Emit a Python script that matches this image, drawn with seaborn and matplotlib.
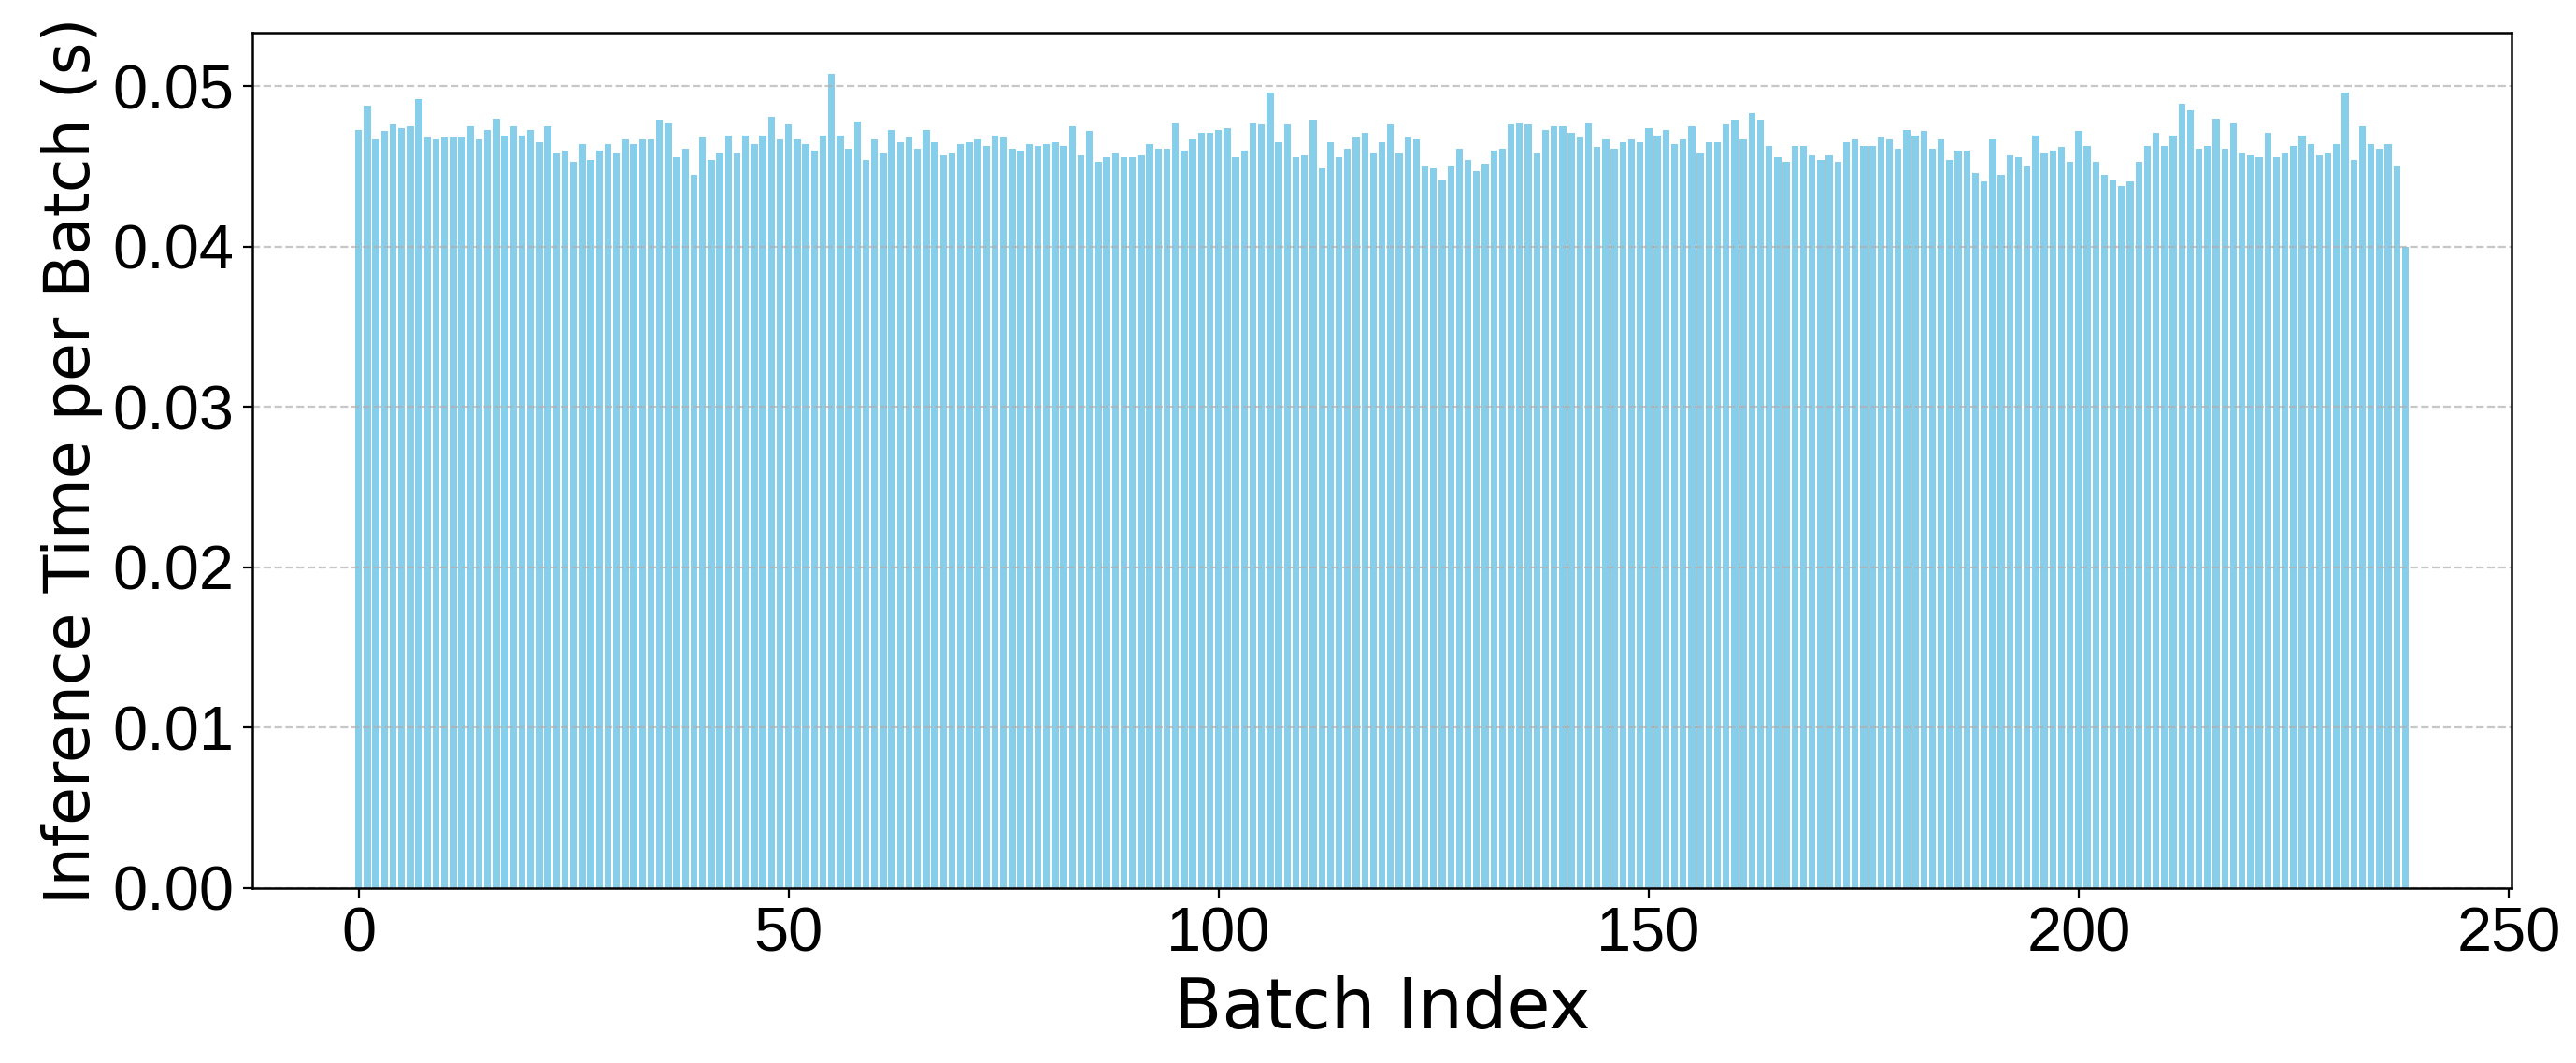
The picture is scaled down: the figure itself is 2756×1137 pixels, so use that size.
import matplotlib
matplotlib.use("Agg")
import matplotlib.pyplot as plt
import seaborn as sns
import pandas as pd
import numpy as np

# Inference time per batch (seconds), batches 0..238
times_0_39 = [0.0473, 0.0488, 0.0467, 0.0472, 0.0476, 0.0474, 0.0475, 0.0492, 0.0468, 0.0467,
              0.0468, 0.0468, 0.0468, 0.0475, 0.0467, 0.0473, 0.0480, 0.0469, 0.0475, 0.0469,
              0.0473, 0.0465, 0.0475, 0.0458, 0.0460, 0.0453, 0.0464, 0.0454, 0.0460, 0.0464,
              0.0458, 0.0467, 0.0464, 0.0467, 0.0467, 0.0479, 0.0477, 0.0456, 0.0461, 0.0445]
times_40_79 = [0.0468, 0.0454, 0.0458, 0.0469, 0.0458, 0.0469, 0.0464, 0.0469, 0.0481, 0.0467,
               0.0476, 0.0467, 0.0464, 0.0460, 0.0469, 0.0508, 0.0469, 0.0461, 0.0478, 0.0454,
               0.0467, 0.0458, 0.0473, 0.0465, 0.0468, 0.0461, 0.0473, 0.0465, 0.0457, 0.0458,
               0.0464, 0.0465, 0.0467, 0.0463, 0.0469, 0.0468, 0.0461, 0.0460, 0.0464, 0.0463]
times_80_119 = [0.0464, 0.0465, 0.0463, 0.0475, 0.0457, 0.0472, 0.0453, 0.0456, 0.0458, 0.0456,
                0.0456, 0.0457, 0.0464, 0.0461, 0.0461, 0.0477, 0.0460, 0.0467, 0.0471, 0.0471,
                0.0473, 0.0474, 0.0456, 0.0460, 0.0477, 0.0476, 0.0496, 0.0465, 0.0476, 0.0456,
                0.0457, 0.0479, 0.0449, 0.0465, 0.0456, 0.0461, 0.0468, 0.0471, 0.0458, 0.0465]
times_120_159 = [0.0476, 0.0458, 0.0468, 0.0467, 0.0450, 0.0449, 0.0442, 0.0450, 0.0461, 0.0454,
                 0.0447, 0.0452, 0.0460, 0.0461, 0.0476, 0.0477, 0.0476, 0.0458, 0.0473, 0.0475,
                 0.0475, 0.0471, 0.0468, 0.0477, 0.0462, 0.0467, 0.0461, 0.0465, 0.0467, 0.0465,
                 0.0474, 0.0469, 0.0473, 0.0464, 0.0467, 0.0475, 0.0458, 0.0465, 0.0465, 0.0476]
times_160_199 = [0.0479, 0.0467, 0.0483, 0.0479, 0.0463, 0.0456, 0.0453, 0.0463, 0.0463, 0.0457,
                 0.0454, 0.0457, 0.0453, 0.0465, 0.0467, 0.0463, 0.0463, 0.0468, 0.0467, 0.0461,
                 0.0473, 0.0469, 0.0472, 0.0461, 0.0467, 0.0454, 0.0460, 0.0460, 0.0446, 0.0441,
                 0.0467, 0.0445, 0.0457, 0.0456, 0.0450, 0.0469, 0.0458, 0.0460, 0.0462, 0.0453]
times_200_238 = [0.0472, 0.0463, 0.0453, 0.0445, 0.0442, 0.0438, 0.0441, 0.0453, 0.0463, 0.0471,
                 0.0463, 0.0469, 0.0489, 0.0485, 0.0461, 0.0463, 0.0480, 0.0461, 0.0477, 0.0458,
                 0.0457, 0.0456, 0.0471, 0.0456, 0.0458, 0.0463, 0.0469, 0.0464, 0.0457, 0.0458,
                 0.0464, 0.0496, 0.0454, 0.0475, 0.0464, 0.0461, 0.0464, 0.0450, 0.0400]

inference_times = (times_0_39 + times_40_79 + times_80_119 + times_120_159
                   + times_160_199 + times_200_238)
batch_index = list(range(len(inference_times)))

x_ticks = [0, 50, 100, 150, 200, 250]
y_ticks = [0.00, 0.01, 0.02, 0.03, 0.04, 0.05]
x_label = "Batch Index"
y_label = "Inference Time per Batch (s)"

df = pd.DataFrame({"batch": batch_index, "time": inference_times})

fig = plt.figure(figsize=(13.78, 5.685), dpi=200)
ax = fig.add_axes([0.098, 0.1645, 0.877, 0.8047])

sns.barplot(data=df, x="batch", y="time", native_scale=True, color="skyblue",
            saturation=1, width=0.8, errorbar=None, ax=ax, zorder=1)

n = len(inference_times)
span = (n - 1) + 0.8
ax.set_xlim(-0.4 - 0.05 * span, (n - 1) + 0.4 + 0.05 * span)
ax.set_ylim(0, max(inference_times) * 1.05)
ax.set_xticks(x_ticks)
ax.set_yticks(y_ticks)
ax.set_yticklabels([f"{v:.2f}" for v in y_ticks])

ax.set_axisbelow(False)
ax.grid(axis="y", linestyle="--", color="#b0b0b0", alpha=0.7, linewidth=0.8, zorder=1.5)
ax.grid(axis="x", visible=False)

ax.set_xlabel(x_label, fontsize=27, family="DejaVu Sans")
ax.set_ylabel(y_label, fontsize=24, family="DejaVu Sans")
ax.tick_params(axis="both", labelsize=24, length=3.5, width=0.8)
for lab in ax.get_xticklabels() + ax.get_yticklabels():
    lab.set_family("Liberation Sans")

for s in ax.spines.values():
    s.set_visible(True)
    s.set_color("black")
    s.set_linewidth(0.9)
    s.set_zorder(3)

fig.savefig("out.png", dpi=200)
